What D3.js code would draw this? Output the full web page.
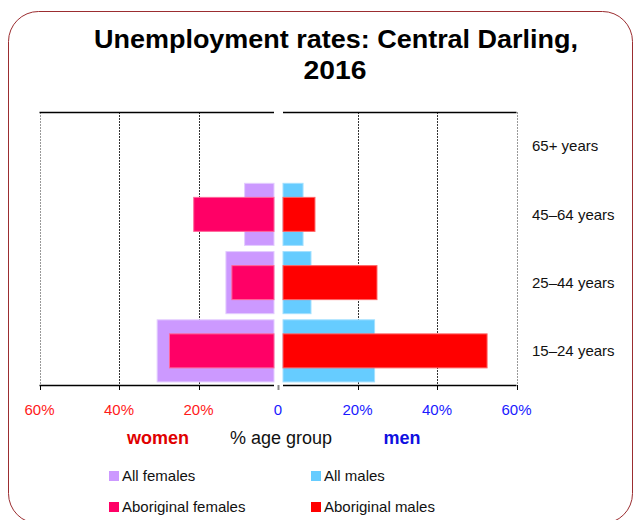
<!DOCTYPE html>
<html>
<head>
<meta charset="utf-8">
<script src="https://cdn.jsdelivr.net/npm/d3@7"></script>
<style>
  body { margin: 0; background: #fff; }
  svg { display: block; font-family: "Liberation Sans", Arial, sans-serif; }
</style>
</head>
<body>
<div id="chart"></div>
<script>
// age groups, top to bottom
const ageGroups = ['65+ years', '45–64 years', '25–44 years', '15–24 years'];

// unemployment rate, % of age group
const allFemales = [0, 8.4, 13.1, 30.4];
const aboriginalFemales = [0, 21.2, 11.6, 27.3];
const allMales = [0, 6.3, 8.3, 24.3];
const aboriginalMales = [0, 9.3, 24.9, 52.6];

const tickValues = [-60, -40, -20, 0, 20, 40, 60];
const tickLabels = ['60%', '40%', '20%', '0', '20%', '40%', '60%'];

const legendItems = ['All females', 'All males', 'Aboriginal females', 'Aboriginal males'];
const colors = {
  'All females': '#cc99ff',
  'Aboriginal females': '#ff0066',
  'All males': '#66ccff',
  'Aboriginal males': '#ff0000'
};

const width = 640;
const height = 520;
const plotTop = 112;
const plotBottom = 385;
const gapLeft = 4;   // white strip between the two halves
const gapRight = 5;

const svg = d3.select('#chart')
  .append('svg')
  .attr('width', width)
  .attr('height', height);

// rounded frame
svg.append('rect')
  .attr('x', 8.5)
  .attr('y', 11.5)
  .attr('width', 624)
  .attr('height', 512)
  .attr('rx', 30)
  .attr('fill', 'none')
  .attr('stroke', '#9b2d30')
  .attr('stroke-width', 1);

// title, a bit wider than the font gives by default
svg.append('text')
  .attr('x', 336)
  .attr('y', 48)
  .attr('text-anchor', 'middle')
  .attr('textLength', 484)
  .attr('lengthAdjust', 'spacingAndGlyphs')
  .style('font-size', '25px')
  .style('font-weight', 'bold')
  .text('Unemployment rates: Central Darling,');

svg.append('text')
  .attr('x', 335)
  .attr('y', 79)
  .attr('text-anchor', 'middle')
  .attr('textLength', 63)
  .attr('lengthAdjust', 'spacingAndGlyphs')
  .style('font-size', '25px')
  .style('font-weight', 'bold')
  .text('2016');

const x = d3.scaleLinear().domain([-60, 60]).range([39.5, 516.5]);
const y = d3.scaleBand()
  .domain(ageGroups)
  .range([plotTop, plotBottom])
  .paddingInner(0.09)
  .paddingOuter(0.045);

const x0 = x(0);
const g = svg.append('g');

// gridlines
g.selectAll('.grid')
  .data(tickValues.filter(d => d !== 0))
  .join('line')
  .attr('x1', d => Math.round(x(d)) + 0.5)
  .attr('x2', d => Math.round(x(d)) + 0.5)
  .attr('y1', plotTop)
  .attr('y2', plotBottom)
  .attr('stroke', d => Math.abs(d) === 60 ? '#999' : '#333')
  .attr('stroke-dasharray', '2,1');

// bars
const inner = 34;
const females = ageGroups.map((a, i) => ({ age: a, all: allFemales[i], abo: aboriginalFemales[i] }));
const males = ageGroups.map((a, i) => ({ age: a, all: allMales[i], abo: aboriginalMales[i] }));

g.selectAll('.f-all')
  .data(females.filter(d => d.all > 0))
  .join('rect')
  .attr('x', d => x(-d.all))
  .attr('y', d => y(d.age))
  .attr('width', d => x0 - gapLeft - x(-d.all))
  .attr('height', y.bandwidth())
  .attr('fill', colors['All females'])
  .attr('stroke', '#e3ccff')
  .attr('stroke-width', 1);

g.selectAll('.f-abo')
  .data(females.filter(d => d.abo > 0))
  .join('rect')
  .attr('x', d => x(-d.abo))
  .attr('y', d => y(d.age) + (y.bandwidth() - inner) / 2)
  .attr('width', d => x0 - gapLeft - x(-d.abo))
  .attr('height', inner)
  .attr('fill', colors['Aboriginal females'])
  .attr('stroke', '#ff6699')
  .attr('stroke-width', 1);

g.selectAll('.m-all')
  .data(males.filter(d => d.all > 0))
  .join('rect')
  .attr('x', x0 + gapRight)
  .attr('y', d => y(d.age))
  .attr('width', d => x(d.all) - x0 - gapRight)
  .attr('height', y.bandwidth())
  .attr('fill', colors['All males'])
  .attr('stroke', '#a3e0ff')
  .attr('stroke-width', 1);

g.selectAll('.m-abo')
  .data(males.filter(d => d.abo > 0))
  .join('rect')
  .attr('x', x0 + gapRight)
  .attr('y', d => y(d.age) + (y.bandwidth() - inner) / 2)
  .attr('width', d => x(d.abo) - x0 - gapRight)
  .attr('height', inner)
  .attr('fill', colors['Aboriginal males'])
  .attr('stroke', '#ff6666')
  .attr('stroke-width', 1);

// panel top and bottom lines
const panels = [[x(-60), x0 - gapLeft], [x0 + gapRight, x(60)]];
[plotTop, plotBottom].forEach(yy => {
  g.selectAll(null)
    .data(panels)
    .join('line')
    .attr('x1', d => d[0])
    .attr('x2', d => d[1])
    .attr('y1', yy + 0.5)
    .attr('y2', yy + 0.5)
    .attr('stroke', '#000')
    .attr('stroke-width', 1.3);
});

// tick marks under the axis
g.selectAll('.tick')
  .data(tickValues)
  .join('line')
  .attr('x1', d => Math.round(x(d)) + 0.5)
  .attr('x2', d => Math.round(x(d)) + 0.5)
  .attr('y1', plotBottom)
  .attr('y2', plotBottom + 5)
  .attr('stroke', d => d === 0 ? '#888' : '#000')
  .attr('stroke-width', d => d === 0 ? 2 : 1);

// tick labels
svg.selectAll('.tick-label')
  .data(tickValues)
  .join('text')
  .attr('x', d => x(d))
  .attr('y', 415)
  .attr('text-anchor', 'middle')
  .style('font-size', '15px')
  .attr('fill', d => d < 0 ? '#ff1a1a' : '#1a1aff')
  .text((d, i) => tickLabels[i]);

// category labels on the right
svg.selectAll('.age-label')
  .data(ageGroups)
  .join('text')
  .attr('x', 532)
  .attr('y', d => y(d) + y.bandwidth() / 2)
  .attr('dy', '0.35em')
  .style('font-size', '15px')
  .attr('fill', '#111')
  .text(d => d);

// axis titles
svg.append('text')
  .attr('x', 158)
  .attr('y', 444)
  .attr('text-anchor', 'middle')
  .style('font-size', '18px')
  .style('font-weight', 'bold')
  .attr('fill', '#e00000')
  .text('women');

svg.append('text')
  .attr('x', 281)
  .attr('y', 444)
  .attr('text-anchor', 'middle')
  .style('font-size', '18px')
  .attr('fill', '#111')
  .text('% age group');

svg.append('text')
  .attr('x', 402)
  .attr('y', 444)
  .attr('text-anchor', 'middle')
  .style('font-size', '18px')
  .style('font-weight', 'bold')
  .attr('fill', '#1010e0')
  .text('men');

// legend
const legend = svg.selectAll('.legend')
  .data(legendItems)
  .join('g')
  .attr('transform', (d, i) => `translate(${i % 2 === 0 ? 109 : 311}, ${i < 2 ? 476 : 507})`);

legend.append('rect')
  .attr('x', 0)
  .attr('y', -5)
  .attr('width', 10)
  .attr('height', 10)
  .attr('fill', d => colors[d]);

legend.append('text')
  .attr('x', 13)
  .attr('y', 0)
  .attr('dy', '0.35em')
  .style('font-size', '15px')
  .attr('fill', '#111')
  .text(d => d);
</script>
</body>
</html>
